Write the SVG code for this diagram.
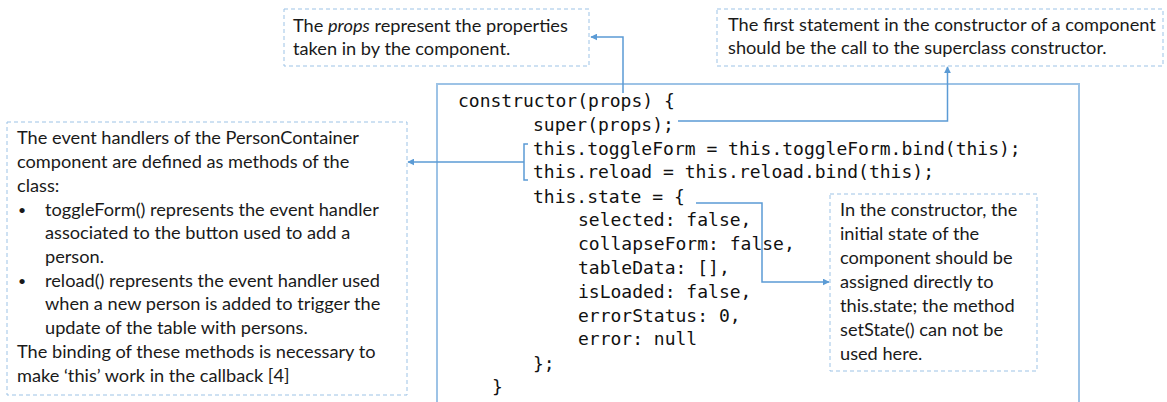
<svg xmlns="http://www.w3.org/2000/svg" width="1167" height="402" viewBox="0 0 1167 402">
  <style>
    .note { fill: #ffffff; stroke: #9dc3e6; stroke-width: 1; stroke-dasharray: 4 3; }
    .note-text { font-family: Lato, "Liberation Sans", sans-serif; font-size: 18.2px; fill: #1a1a1a; }
    .bullet { font-size: 14px; }
    .code-box { fill: #ffffff; stroke: #9dc3e6; stroke-width: 2; }
    .code { font-family: "DejaVu Sans Mono", "Liberation Mono", monospace; font-size: 18px; fill: #111111; }
    .link { fill: none; stroke: #5b9bd5; stroke-width: 1.5; }
  </style>
  <defs>
    <marker id="arrow" viewBox="0 0 10 10" refX="9" refY="5" markerWidth="7" markerHeight="7" markerUnits="userSpaceOnUse" orient="auto">
      <path d="M0,0 L10,5 L0,10 z" fill="#5b9bd5"/>
    </marker>
  </defs>

  <rect width="1167" height="402" fill="#ffffff"/>

  <!-- code listing -->
  <g id="code">
    <rect class="code-box" x="437" y="84" width="642" height="330"/>
    <text class="code" x="458" y="107">constructor(props) {</text>
    <text class="code" x="533" y="131">super(props);</text>
    <text class="code" x="533" y="155">this.toggleForm = this.toggleForm.bind(this);</text>
    <text class="code" x="533" y="178">this.reload = this.reload.bind(this);</text>
    <text class="code" x="533" y="203">this.state = {</text>
    <text class="code" x="578" y="226">selected: false,</text>
    <text class="code" x="578" y="250">collapseForm: false,</text>
    <text class="code" x="578" y="274">tableData: [],</text>
    <text class="code" x="578" y="298">isLoaded: false,</text>
    <text class="code" x="578" y="322">errorStatus: 0,</text>
    <text class="code" x="578" y="345">error: null</text>
    <text class="code" x="533" y="370">};</text>
    <text class="code" x="492" y="393">}</text>
  </g>

  <!-- note: props -->
  <g id="note-props">
    <rect class="note" x="284" y="9" width="305" height="57"/>
    <text class="note-text" x="293" y="32">The <tspan font-style="italic">props</tspan> represent the properties</text>
    <text class="note-text" x="293" y="55">taken in by the component.</text>
  </g>

  <!-- note: super call -->
  <g id="note-super">
    <rect class="note" x="717" y="9" width="446" height="57"/>
    <text class="note-text" x="728" y="31">The first statement in the constructor of a component</text>
    <text class="note-text" x="728" y="54">should be the call to the superclass constructor.</text>
  </g>

  <!-- note: event handlers -->
  <g id="note-handlers">
    <rect class="note" x="7" y="122" width="400" height="273"/>
    <text class="note-text" x="17" y="144">The event handlers of the PersonContainer</text>
    <text class="note-text" x="17" y="168">component are defined as methods of the</text>
    <text class="note-text" x="17" y="192">class:</text>
    <text class="note-text bullet" x="18" y="215">•</text>
    <text class="note-text" x="45" y="216">toggleForm() represents the event handler</text>
    <text class="note-text" x="45" y="239">associated to the button used to add a</text>
    <text class="note-text" x="45" y="263">person.</text>
    <text class="note-text bullet" x="18" y="286">•</text>
    <text class="note-text" x="45" y="287">reload() represents the event handler used</text>
    <text class="note-text" x="45" y="310">when a new person is added to trigger the</text>
    <text class="note-text" x="45" y="334">update of the table with persons.</text>
    <text class="note-text" x="17" y="358">The binding of these methods is necessary to</text>
    <text class="note-text" x="17" y="382">make ‘this’ work in the callback [4]</text>
  </g>

  <!-- note: initial state -->
  <g id="note-state">
    <rect class="note" x="830" y="194" width="207" height="177"/>
    <text class="note-text" x="840" y="216">In the constructor, the</text>
    <text class="note-text" x="840" y="240">initial state of the</text>
    <text class="note-text" x="840" y="264">component should be</text>
    <text class="note-text" x="840" y="288">assigned directly to</text>
    <text class="note-text" x="840" y="312">this.state; the method</text>
    <text class="note-text" x="840" y="336">setState() can not be</text>
    <text class="note-text" x="840" y="360">used here.</text>
  </g>

  <!-- connectors -->
  <g id="connectors">
    <path class="link" d="M623,93 V37 H591" marker-end="url(#arrow)"/>
    <path class="link" d="M678,121 H947.5 V67" marker-end="url(#arrow)"/>
    <path class="link" d="M528,144 H524 V180 H528"/>
    <path class="link" d="M524,162 H408" marker-end="url(#arrow)"/>
    <path class="link" d="M696,203 H762 V282 H829" marker-end="url(#arrow)"/>
  </g>
</svg>
